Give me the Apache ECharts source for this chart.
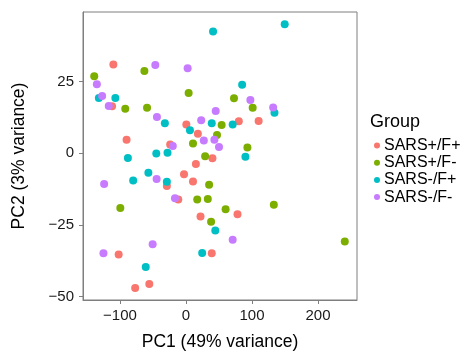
<!DOCTYPE html>
<html><head><meta charset="utf-8">
<script src="https://cdn.jsdelivr.net/npm/echarts@6/dist/echarts.min.js"></script>
<style>html,body{margin:0;padding:0;background:#fff}#c{width:465px;height:356px}</style>
</head><body><div id="c"></div>
<script>
const groups = ["SARS+/F+", "SARS+/F-", "SARS-/F+", "SARS-/F-"];
const colors = ["#F8766D", "#7CAE00", "#00BFC4", "#C77CFF"];
const xTicks = [-100, 0, 100, 200];
const yTicks = [-50, -25, 0, 25];
const sarsPosFPos = [[-110,30.9],[-112,16.3],[-90,4.7],[-24,3.0],[0.5,10.0],[18,6.8],[80,11.1],[110,11.2],[40,-1.8],[15,-3.8],[-3,-7.4],[10.6,-9.9],[-29,-11.5],[-11.7,-16.2],[22,-22.1],[78,-21.3],[-102,-35.3],[39,-34.9],[-77,-47],[-55.6,-45.6]];
const sarsPosFNeg = [[-139,26.8],[-92,15.5],[-63,28.6],[-59,15.8],[4,21.0],[10.6,3.4],[29,-1.1],[72.7,19.1],[101,15.8],[54,9.8],[47,6.3],[93,2.0],[-99.5,-19.1],[17,-16.2],[33,-16.0],[35,-11.0],[60,-19.6],[133,-18],[38,-23.9],[240.5,-30.8]];
const sarsNegFPos = [[-132,19.2],[-107,19.2],[-88,-1.7],[-32,10.4],[-45,-0.1],[-28,0.1],[6,8.0],[39,10.4],[41,42.4],[149.5,44.9],[85,23.8],[134,14.1],[70.7,10.0],[90,-1.3],[-57,-6.8],[-80,-9.5],[-29,-10.0],[44.4,-27],[24.5,-34.8],[-61,-39.7]];
const sarsNegFNeg = [[-135,24.0],[-127,19.9],[-117,16.4],[-46.5,30.7],[-44,12.6],[-20,2.5],[2.5,29.6],[23,11.5],[27,4.4],[97.5,18.5],[132,15.9],[45,14.7],[43,4.7],[50,2.1],[-124,-10.8],[-44.5,-9.0],[-16.7,-15.7],[-50.5,-31.8],[-125,-34.9],[70.7,-30.2]];
const seriesData = [sarsPosFPos, sarsPosFNeg, sarsNegFPos, sarsNegFNeg];

const font = "Liberation Sans, Arial, Helvetica, sans-serif";
const fmt = v => (v < 0 ? "\u2212" + Math.abs(v) : String(v));
const chart = echarts.init(document.getElementById('c'), null, {renderer: 'canvas'});
const axisLine = {show: true, onZero: false, lineStyle: {color: '#7f7f7f', width: 1}};
chart.setOption({
  animation: false,
  backgroundColor: '#fff',
  textStyle: {fontFamily: font},
  title: {text: 'Group', left: 370, top: 113, padding: 0, textStyle: {fontFamily: font, fontSize: 18, fontWeight: 'normal', color: '#000'}},
  legend: {
    data: groups, orient: 'vertical', left: 374, top: 137.5, padding: 0,
    icon: 'circle', itemWidth: 6, itemHeight: 6, itemGap: 1.2,
    textStyle: {fontFamily: font, fontSize: 16, color: '#000', padding: [0,0,0,-1], lineHeight: 16}
  },
  grid: {left: 83, right: 108, top: 12, bottom: 51, show: true, borderColor: '#7f7f7f', borderWidth: 1, backgroundColor: '#fff'},
  xAxis: {
    type: 'value', min: -156, max: 259,
    name: 'PC1 (49% variance)', nameLocation: 'middle', nameGap: 33,
    nameTextStyle: {fontFamily: font, fontSize: 17.5, color: '#000'},
    axisLine: axisLine, splitLine: {show: false},
    axisTick: {show: true, customValues: xTicks, length: 4, lineStyle: {color: '#7f7f7f'}},
    axisLabel: {customValues: xTicks, formatter: fmt, fontFamily: font, fontSize: 15, color: '#1a1a1a', margin: 8}
  },
  yAxis: {
    type: 'value', min: -51.2, max: 49.2,
    name: 'PC2 (3% variance)', nameLocation: 'middle', nameGap: 55, nameRotate: 90,
    nameTextStyle: {fontFamily: font, fontSize: 17.5, color: '#000'},
    axisLine: axisLine, splitLine: {show: false},
    axisTick: {show: true, customValues: yTicks, length: 4, lineStyle: {color: '#7f7f7f'}},
    axisLabel: {customValues: yTicks, formatter: fmt, fontFamily: font, fontSize: 15, color: '#1a1a1a', margin: 9}
  },
  series: groups.map((g, i) => ({
    name: g, type: 'scatter', data: seriesData[i], symbolSize: 8,
    itemStyle: {color: colors[i], opacity: 1}
  }))
});
</script></body></html>
